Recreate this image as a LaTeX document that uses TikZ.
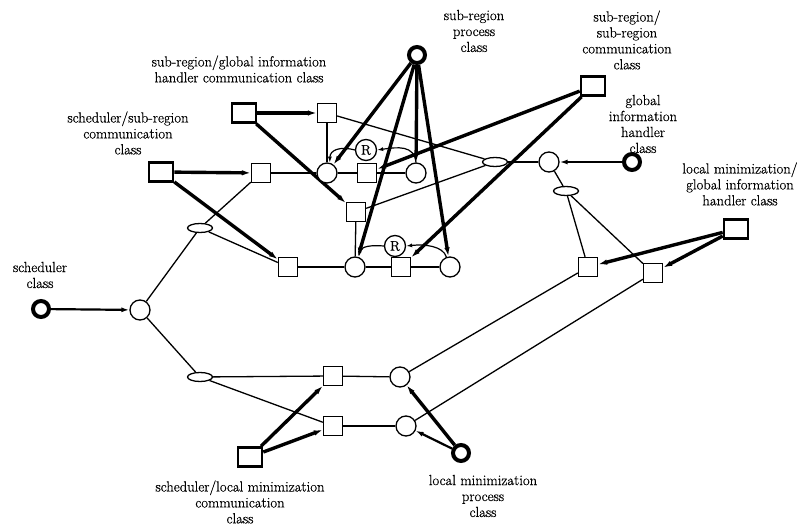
\documentclass[tikz,border=0pt]{standalone}
\usepackage{fontspec}
\newfontfamily\lblfont{Latin Modern Roman}[FakeBold=0.5]
\usetikzlibrary{shapes.geometric,arrows.meta}
\pgfdeclarelayer{bg}
\pgfsetlayers{bg,main}
\begin{document}
\begin{tikzpicture}[x=1bp,y=-1bp,
  sq/.style={draw,line width=1.3bp,fill=white,rectangle,minimum size=19bp,inner sep=0},
  bsq/.style={draw,line width=2.6bp,fill=white,rectangle,minimum width=24bp,minimum height=19bp,inner sep=0},
  cir/.style={draw,line width=1.3bp,fill=white,circle,minimum size=20bp,inner sep=0},
  pcir/.style={draw,line width=4bp,fill=white,circle,minimum size=16bp,inner sep=0},
  ell/.style={draw,line width=1.3bp,fill=white,ellipse,minimum width=25bp,minimum height=9bp,inner sep=0},
  rcir/.style={draw,line width=1.3bp,fill=white,circle,minimum size=21bp,inner sep=0,font=\lblfont\fontsize{14}{14}\selectfont},
  lbl/.style={align=center,inner sep=0,font=\lblfont\fontsize{14.7}{16}\selectfont},
  conn/.style={line width=1.3bp},
  thk/.style={line width=3.4bp,-{Latex[length=9bp,width=5.5bp]}},
  med/.style={line width=2.2bp,-{Latex[length=8bp,width=5bp]}},
  rarr/.style={line width=1.2bp,-{Latex[length=6bp,width=4bp]}},
]
\useasboundingbox (0,0) rectangle (809,525);
% nodes
\node[pcir] (P) at (417,55) {};
\node[bsq] (SG) at (244,113) {};
\node[sq] (A) at (327,113) {};
\node[cir] (C1) at (327,173) {};
\node[sq] (B) at (367,173) {};
\node[cir] (C2) at (416,173) {};
\node[rcir] (R1) at (366,150) {R};
\node[sq] (L) at (261,173) {};
\node[bsq] (SS) at (161,172) {};
\node[ell] (E1) at (200,228) {};
\node[sq] (D) at (288,267) {};
\node[pcir] (SC) at (41,309) {};
\node[cir] (S) at (140,310) {};
\node[sq] (M) at (356,212) {};
\node[cir] (C3) at (355,267) {};
\node[rcir] (R2) at (395,246) {R};
\node[sq] (E) at (401,267) {};
\node[cir] (C4) at (450,267) {};
\node[ell] (E2) at (495,162) {};
\node[cir] (G) at (549,162) {};
\node[pcir] (GC) at (632,162) {};
\node[ell] (E3) at (566,191) {};
\node[sq] (F1) at (588,267) {};
\node[sq] (F2) at (653,273) {};
\node[bsq] (LG) at (736,229) {};
\node[cir] (LM1) at (400,377) {};
\node[cir] (LM2) at (406,426) {};
\node[sq] (T1) at (333,376) {};
\node[sq] (T2) at (333,426) {};
\node[ell] (E4) at (200,377) {};
\node[bsq] (SL) at (250,457) {};
\node[pcir] (LP) at (461,453) {};
\node[bsq] (SR) at (593,86) {};
% labels
\node[lbl] (lP) at (474,31) {sub-region\\process\\class};
\node[lbl] (lSR) at (627,40) {sub-region/\\sub-region\\communication\\class};
\node[lbl] (lSG) at (239,69) {sub-region/global information\\handler communication class};
\node[lbl] (lSS) at (128,133) {scheduler/sub-region\\communication\\class};
\node[lbl] (lGC) at (643,124) {global\\information\\handler\\class};
\node[lbl] (lLG) at (740,184) {local minimization/\\global information\\handler class};
\node[lbl] (lSC) at (40,275) {scheduler\\class};
\node[lbl] (lSL) at (240,502) {scheduler/local minimization\\communication\\class};
\node[lbl] (lLP) at (483,496) {local minimization\\process\\class};
% connectors
\begin{pgfonlayer}{bg}
\draw[conn] (S) -- (E1); \draw[conn] (E1) -- (L); \draw[conn] (E1) -- (D);
\draw[conn] (S) -- (E4); \draw[conn] (E4) -- (T1); \draw[conn] (E4) -- (T2);
\draw[conn] (L) -- (C1); \draw[conn] (A) -- (C1); \draw[conn] (C1) -- (B); \draw[conn] (B) -- (C2);
\draw[conn] (D) -- (C3); \draw[conn] (M) -- (C3); \draw[conn] (C3) -- (E); \draw[conn] (E) -- (C4);
\draw[conn] (A) -- (E2); \draw[conn] (M) -- (E2); \draw[conn] (E2) -- (G);
\draw[conn] (G) -- (E3); \draw[conn] (E3) -- (F1); \draw[conn] (E3) -- (F2);
\draw[conn] (T1) -- (LM1); \draw[conn] (T2) -- (LM2);
\draw[conn] (F1) -- (LM1); \draw[conn] (F2) -- (LM2);
\draw[thk] (SS) -- (L); \draw[thk] (SS) -- (D);
\draw[thk] (SG) -- (A); \draw[thk] (SG) -- (M);
\draw[thk] (SR) -- (B); \draw[thk] (SR) -- (E);
\draw[thk] (P) -- (C1); \draw[thk] (P) -- (C3); \draw[thk] (P) -- (C2); \draw[thk] (P) -- (C4);
\draw[thk] (LG) -- (F1); \draw[thk] (LG) -- (F2);
\draw[thk] (SL) -- (T1); \draw[thk] (SL) -- (T2);
\draw[thk] (LP) -- (LM1); \draw[med] (LP) -- (LM2);
\draw[med] (GC) -- (G); \draw[med] (SC) -- (S);
\draw[rarr] (C2.north) .. controls (414,145) and (398,147) .. (R1.east);
\draw[rarr] (R1.west) .. controls (340,146) and (330,150) .. (C1.75);
\draw[rarr] (C4.110) .. controls (443,246) and (425,244) .. (R2.east);
\draw[rarr] (R2.west) .. controls (372,245) and (361,246) .. (C3.70);
\end{pgfonlayer}
\end{tikzpicture}
\end{document}
